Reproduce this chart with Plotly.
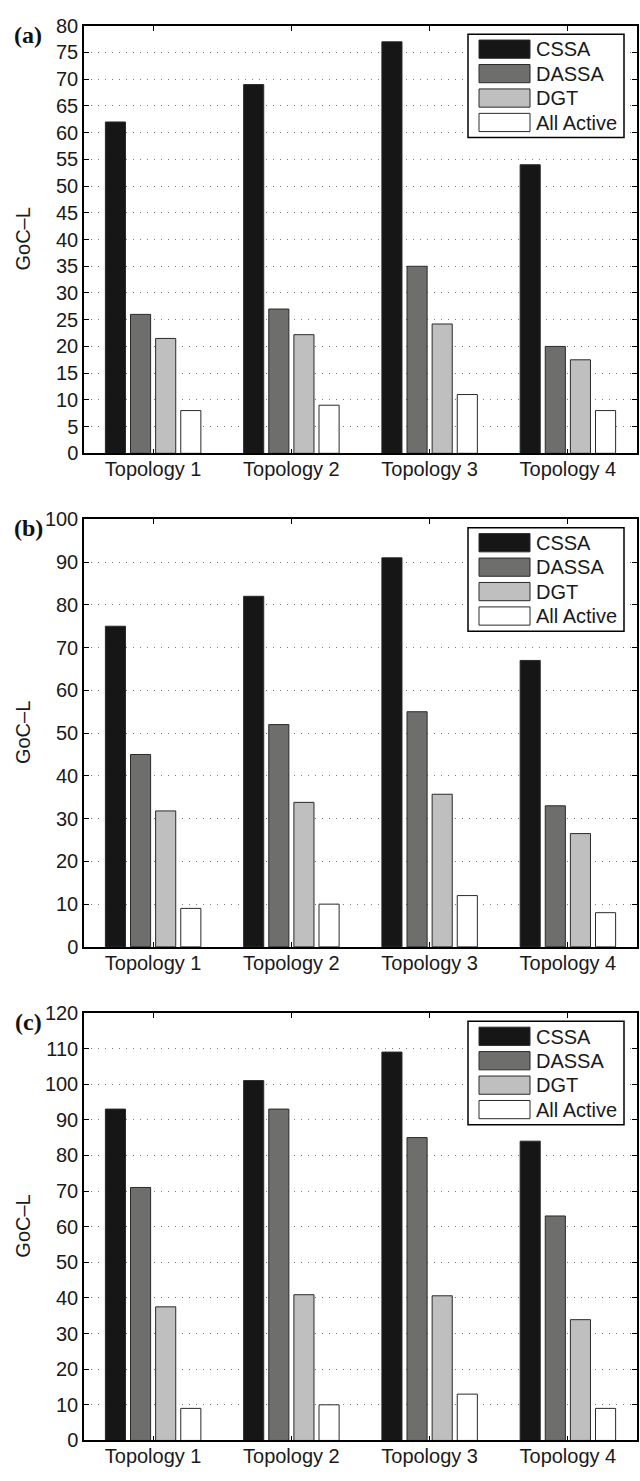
import plotly.graph_objects as go
from plotly.subplots import make_subplots

# ---- data -------------------------------------------------------------
topologies = ["Topology 1", "Topology 2", "Topology 3", "Topology 4"]
methods = ["CSSA", "DASSA", "DGT", "All Active"]
panel_labels = ["(a)", "(b)", "(c)"]

cssa_a = [62, 69, 77, 54]
dassa_a = [26, 27, 35, 20]
dgt_a = [21.5, 22.2, 24.2, 17.5]
allact_a = [8, 9, 11, 8]

cssa_b = [75, 82, 91, 67]
dassa_b = [45, 52, 55, 33]
dgt_b = [31.8, 33.8, 35.7, 26.5]
allact_b = [9, 10, 12, 8]

cssa_c = [93, 101, 109, 84]
dassa_c = [71, 93, 85, 63]
dgt_c = [37.5, 40.9, 40.6, 33.9]
allact_c = [9, 10, 13, 9]

y_max = [80, 100, 120]
y_step = [5, 10, 10]

panels = [
    [cssa_a, dassa_a, dgt_a, allact_a],
    [cssa_b, dassa_b, dgt_b, allact_b],
    [cssa_c, dassa_c, dgt_c, allact_c],
]

# ---- styling ------------------------------------------------------------
W, H = 640, 1481
FILLS = ["#161616", "#6e6e6c", "#bebfbe", "#ffffff"]
EDGE = "#2a2a2a"
FONT = "Liberation Sans"
FS = 20
TXT = "#1a1a1a"

AX_LEFT, AX_RIGHT = 84, 637
AX_TOPS = [15, 516, 1017]
AX_BOTS = [449, 950, 1451]


def px(xp, yp):
    """Pixel position on the page -> paper coordinates."""
    return xp / W, 1 - yp / H


fig = make_subplots(rows=3, cols=1)

for p, series in enumerate(panels):
    row = p + 1
    for name, vals, fill in zip(methods, series, FILLS):
        fig.add_trace(
            go.Bar(
                x=topologies, y=vals, name=name,
                marker=dict(color=fill, line=dict(color=EDGE, width=1)),
                showlegend=False,
            ),
            row=row, col=1,
        )

    sfx = "" if p == 0 else str(p + 1)
    top, bot = AX_TOPS[p], AX_BOTS[p]
    fig.layout["xaxis" + sfx].update(
        domain=[AX_LEFT / W, AX_RIGHT / W],
        showline=True, linecolor="black", linewidth=1.5, mirror="ticks",
        ticks="inside", ticklen=5, tickcolor="black",
        showgrid=False, ticklabelstandoff=-3,
        tickfont=dict(family=FONT, size=FS, color=TXT),
    )
    fig.layout["yaxis" + sfx].update(
        domain=[1 - bot / H, 1 - top / H],
        range=[0, y_max[p]], dtick=y_step[p], tick0=0,
        showline=True, linecolor="black", linewidth=1.5, mirror="ticks",
        ticks="inside", ticklen=5, tickcolor="black",
        showgrid=True, gridcolor="#7a7a7a", gridwidth=1, griddash="1px,6px",
        zeroline=False,
        tickfont=dict(family=FONT, size=FS, color=TXT),
    )

    # y-axis title
    tx, ty = px(23, (top + bot) / 2)
    fig.add_annotation(
        text="GoC\u2013L", xref="paper", yref="paper",
        x=tx, y=ty, xanchor="center", yanchor="middle", textangle=-90,
        showarrow=False, font=dict(family=FONT, size=FS, color=TXT),
    )
    # panel label
    lx, ly = px(28, top + 9)
    fig.add_annotation(
        text="<b>" + panel_labels[p] + "</b>", xref="paper", yref="paper",
        x=lx, y=ly, xanchor="center", yanchor="middle", showarrow=False,
        font=dict(family="Liberation Serif", size=24, color="#111111"),
    )

    # legend box
    bx0, by0 = px(468, top + 8.5)
    bx1, by1 = px(624, top + 113.5)
    fig.add_shape(type="rect", xref="paper", yref="paper",
                  x0=bx0, y0=by0, x1=bx1, y1=by1,
                  line=dict(color="black", width=1.5), fillcolor="white")
    for i, (name, fill) in enumerate(zip(methods, FILLS)):
        ry = top + 14.5 + i * 24.8
        sx0, sy0 = px(479, ry)
        sx1, sy1 = px(530, ry + 18.5)
        fig.add_shape(type="rect", xref="paper", yref="paper",
                      x0=sx0, y0=sy0, x1=sx1, y1=sy1,
                      line=dict(color=EDGE, width=1), fillcolor=fill)
        nx, ny = px(534, ry + 9.5)
        fig.add_annotation(text=name, xref="paper", yref="paper",
                           x=nx, y=ny, xanchor="left", yanchor="middle",
                           showarrow=False,
                           font=dict(family=FONT, size=FS, color=TXT))

fig.update_layout(
    width=W, height=H,
    margin=dict(l=0, r=0, t=0, b=0),
    barmode="group", bargap=0.273, bargroupgap=0.2,
    plot_bgcolor="white", paper_bgcolor="white",
)

fig.write_html("out.html")
